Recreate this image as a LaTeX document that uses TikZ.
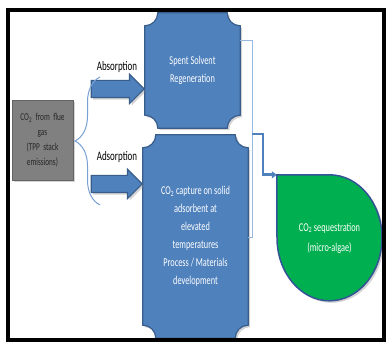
\documentclass[tikz,border=0pt]{standalone}
\usepackage{fontspec}
\setmainfont{Carlito}[FakeStretch=0.69]
\usepackage{xcolor}
\usepackage{tikz}
\usetikzlibrary{shapes.arrows, arrows.meta, positioning, calc, decorations.pathreplacing, shadows, backgrounds}
\definecolor{boxblue}{RGB}{79, 129, 189}
\definecolor{boxedge}{RGB}{56, 93, 138}
\definecolor{algaegreen}{RGB}{0, 176, 80}
\definecolor{algaeedge}{RGB}{52, 84, 150}
\definecolor{fluegray}{RGB}{128, 128, 128}
\definecolor{fluegrayedge}{RGB}{100, 100, 100}
\definecolor{bracelight}{RGB}{120, 160, 210}
\definecolor{bracketlight}{RGB}{150, 184, 225}
\newcommand{\cotwo}{CO\textsubscript{2}}
\newcommand{\plaquepath}[2]{%
  ($(#1.north west)+(#2,0)$) -- ($(#1.north east)+(-#2,0)$)
  arc[start angle=180, end angle=270, radius=#2]
  -- ($(#1.south east)+(0,#2)$)
  arc[start angle=90, end angle=180, radius=#2]
  -- ($(#1.south west)+(#2,0)$)
  arc[start angle=0, end angle=90, radius=#2]
  -- ($(#1.north west)+(0,-#2)$)
  arc[start angle=270, end angle=360, radius=#2] -- cycle}

\begin{document}
\begin{tikzpicture}[
    x=1pt, y=1pt,
    fluebox/.style={
        rectangle, draw=fluegrayedge, fill=fluegray, thick, text=black!85,
        minimum width=61pt, minimum height=80pt, text width=58pt, align=center,
        inner sep=0pt, font=\fontsize{10.5}{15}\selectfont,
        drop shadow={opacity=0.35, shadow xshift=2pt, shadow yshift=-2pt}
    },
    blockbox/.style={
        rectangle, text=white, align=center, inner sep=0pt,
        font=\fontsize{12}{18}\selectfont
    },
    plaquefill/.style={
        fill=boxblue, draw=boxedge, line width=1.2pt,
        drop shadow={opacity=0.35, shadow xshift=2pt, shadow yshift=-2pt}
    },
    blockarrow/.style={
        single arrow, fill=boxblue, draw=boxedge, line width=1.2pt,
        inner xsep=0pt, inner ysep=8pt, single arrow head extend=6pt,
        drop shadow={opacity=0.35, shadow xshift=2pt, shadow yshift=-2pt}
    },
    phaselabel/.style={font=\fontsize{13}{15}\selectfont, inner sep=0pt},
    algaebox/.style={
        rectangle, text=white, align=center, inner sep=0pt,
        minimum width=105pt, minimum height=126pt,
        font=\fontsize{12}{20}\selectfont
    },
    algaefill/.style={
        fill=algaegreen, draw=algaeedge, line width=1.5pt,
        drop shadow={opacity=0.35, shadow xshift=2pt, shadow yshift=-2pt}
    },
    bracestyle/.style={decorate, decoration={brace, amplitude=25pt}, draw=bracelight, line width=1pt},
    bracketline/.style={draw=bracketlight, line width=0.9pt},
    flowarrow/.style={-{Triangle[length=5pt, width=7pt]}, draw=boxblue, line width=2.8pt}
]
    \useasboundingbox (0,0) rectangle (386,343);

    \node [fluebox] (flue) at (42.5,203) {\cotwo\ from flue\\gas\\(TPP stack\\emissions)};

    \node [blockbox, minimum width=95pt, minimum height=115pt] (regen) at (192.5,272.5)
        {Spent Solvent\\Regeneration};
    \node [blockbox, minimum width=105pt, minimum height=203pt] (capture) at (195.5,106.5)
        {\cotwo\ capture on solid\\adsorbent at\\elevated\\temperatures\\Process / Materials\\development};

    \node [blockarrow, minimum height=53pt, anchor=tip] (arrA) at (145,254) {};
    \node [blockarrow, minimum height=51pt, anchor=tip] (arrB) at (143,159) {};

    \node [phaselabel] (absorb) at (117,276) {Absorption};
    \node [phaselabel] (adsorb) at (117,186) {Adsorption};

    \node [algaebox] (seq) at (329.5,105) {\cotwo\ sequestration\\(micro-algae)};

    \begin{scope}[on background layer]
        \path [plaquefill] \plaquepath{regen}{13pt};
        \path [plaquefill] \plaquepath{capture}{13pt};
        \path [algaefill] (seq.north west) -- (seq.north)
            arc[start angle=90, end angle=-180, x radius=52.5pt, y radius=63pt] -- cycle;
    \end{scope}

    \coordinate (braceBot) at (100,138);
    \coordinate (braceTop) at (100,266);
    \draw [bracestyle] (braceBot) -- (braceTop);

    \coordinate (bracketTop) at (240,303);
    \coordinate (bracketBot) at (248,106);
    \draw [bracketline] (bracketTop) -- (252,303) -- (252,106) -- (bracketBot);

    \coordinate (split) at (252,209);
    \draw [flowarrow] (split) -- ++(11,0) |- (seq.north west);

    \draw [line width=4pt] (7.5,2.5) rectangle (384,332.5);
\end{tikzpicture}
\end{document}
